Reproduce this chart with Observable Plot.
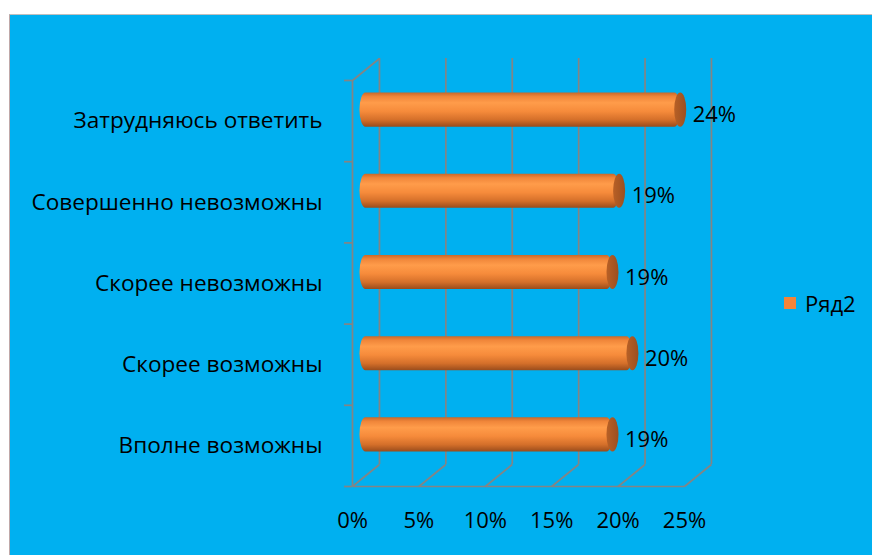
<!DOCTYPE html>
<html>
<head>
<meta charset="utf-8">
<script src="https://cdn.jsdelivr.net/npm/d3@7"></script>
<script src="https://cdn.jsdelivr.net/npm/@observablehq/plot@0.6"></script>
<style>
  html, body { margin: 0; padding: 0; background: #ffffff; }
  #wrap { position: absolute; left: 9px; top: 14px; width: 863px; height: 541px;
          background: #00B0F0; border-top: 1px solid #bfbfbf; border-left: 1px solid #c0a8a8; }
  #chart { position: absolute; left: 0; top: 0; }
  #legend { position: absolute; left: 774px; top: 273px; font-family: "Open Sans", sans-serif;
            font-size: 22px; color: #000; display: flex; align-items: center; }
  #legend .sw { width: 12px; height: 12px; background: #F3843A; margin-right: 9px; }
</style>
</head>
<body>
<div id="wrap">
  <div id="chart"></div>
  <div id="legend"><div class="sw"></div><span>Ряд2</span></div>
</div>
<script>
// Categories, bottom to top
const categories = ["Вполне возможны", "Скорее возможны", "Скорее невозможны", "Совершенно невозможны", "Затрудняюсь ответить"];
const values = [18.6, 20.1, 18.6, 19.1, 23.7];
const valueLabels = ["19%", "20%", "19%", "19%", "24%"];
const xTicks = [0, 5, 10, 15, 20, 25];
const xTickLabels = ["0%", "5%", "10%", "15%", "20%", "25%"];

const rows = categories.map((c, i) => ({cat: c, i, v: values[i], label: valueLabels[i]}));
const levels = d3.range(categories.length + 1);

// 3D depth offset in data units
const DX = 2.03, DY = 0.271, BH = 0.21;
const grid = "#848484";
const font = "Open Sans, sans-serif";
const FS = 22;

const plot = Plot.plot({
  width: 863,
  height: 540,
  marginLeft: 342,
  marginRight: 189,
  marginTop: 65,
  marginBottom: 69,
  x: {domain: [0, 25], axis: null},
  y: {domain: [0, categories.length], axis: null},
  style: {background: "transparent", fontFamily: font, fontSize: FS + "px", color: "#000"},
  marks: [
    // back wall vertical gridlines
    Plot.ruleX(xTicks, {x: d => d + DX, y1: DY, y2: categories.length + DY, stroke: grid, strokeWidth: 1.7}),
    // floor diagonals
    Plot.link(xTicks, {x1: d => d, y1: 0, x2: d => d + DX, y2: DY, stroke: grid, strokeWidth: 1.7}),
    // floor front edge
    Plot.link([0], {x1: 0, y1: 0, x2: 25, y2: 0, stroke: grid, strokeWidth: 1.7}),
    // left wall front edge
    Plot.ruleX([0], {y1: 0, y2: categories.length, stroke: grid, strokeWidth: 1.7}),
    // left wall top diagonal
    Plot.link([0], {x1: 0, y1: categories.length, x2: DX, y2: categories.length + DY, stroke: grid, strokeWidth: 1.7}),
    // left ticks at category boundaries
    Plot.ruleY(levels, {y: d => d, x1: -0.6, x2: 0, stroke: grid, strokeWidth: 1.7}),
    // bar bodies (cylinders)
    Plot.rect(rows, {x1: DX / 2, x2: d => d.v + DX / 2, y1: d => d.i + 0.5 + DY / 2 - BH, y2: d => d.i + 0.5 + DY / 2 + BH,
      fill: "url(#cyl)", insetLeft: -6, rx: 6, ry: 17}),
    // bar end caps
    Plot.rect(rows, {x1: d => d.v + DX / 2, x2: d => d.v + DX / 2, y1: d => d.i + 0.5 + DY / 2 - BH, y2: d => d.i + 0.5 + DY / 2 + BH,
      fill: "url(#cap)", insetLeft: -6, insetRight: -6, rx: 6, ry: 17}),
    // value labels
    Plot.text(rows, {x: d => d.v + DX / 2, y: d => d.i + 0.5 + DY / 2, text: "label", dx: 12, dy: 5, textAnchor: "start",
      fontSize: FS, fill: "#000"}),
    // category labels
    Plot.text(rows, {x: 0, y: d => d.i + 0.5, text: "cat", dx: -30, textAnchor: "end", fontSize: 22.6, fill: "#000"}),
    // x tick labels
    Plot.text(xTicks, {x: d => d, y: 0, text: (d, k) => xTickLabels[k], dy: 34, fontSize: FS, fill: "#000"})
  ]
});

plot.insertAdjacentHTML("afterbegin", `
<defs>
  <linearGradient id="cyl" x1="0" y1="0" x2="0" y2="1">
    <stop offset="0" stop-color="#C9692A"/>
    <stop offset="0.12" stop-color="#F0863A"/>
    <stop offset="0.3" stop-color="#FF9C4A"/>
    <stop offset="0.55" stop-color="#F68B3B"/>
    <stop offset="0.8" stop-color="#D46F2A"/>
    <stop offset="1" stop-color="#9A4C1C"/>
  </linearGradient>
  <linearGradient id="cap" x1="0" y1="0" x2="1" y2="0">
    <stop offset="0" stop-color="#B86026"/>
    <stop offset="1" stop-color="#9B4F20"/>
  </linearGradient>
</defs>`);

document.getElementById("chart").appendChild(plot);
</script>
</body>
</html>
